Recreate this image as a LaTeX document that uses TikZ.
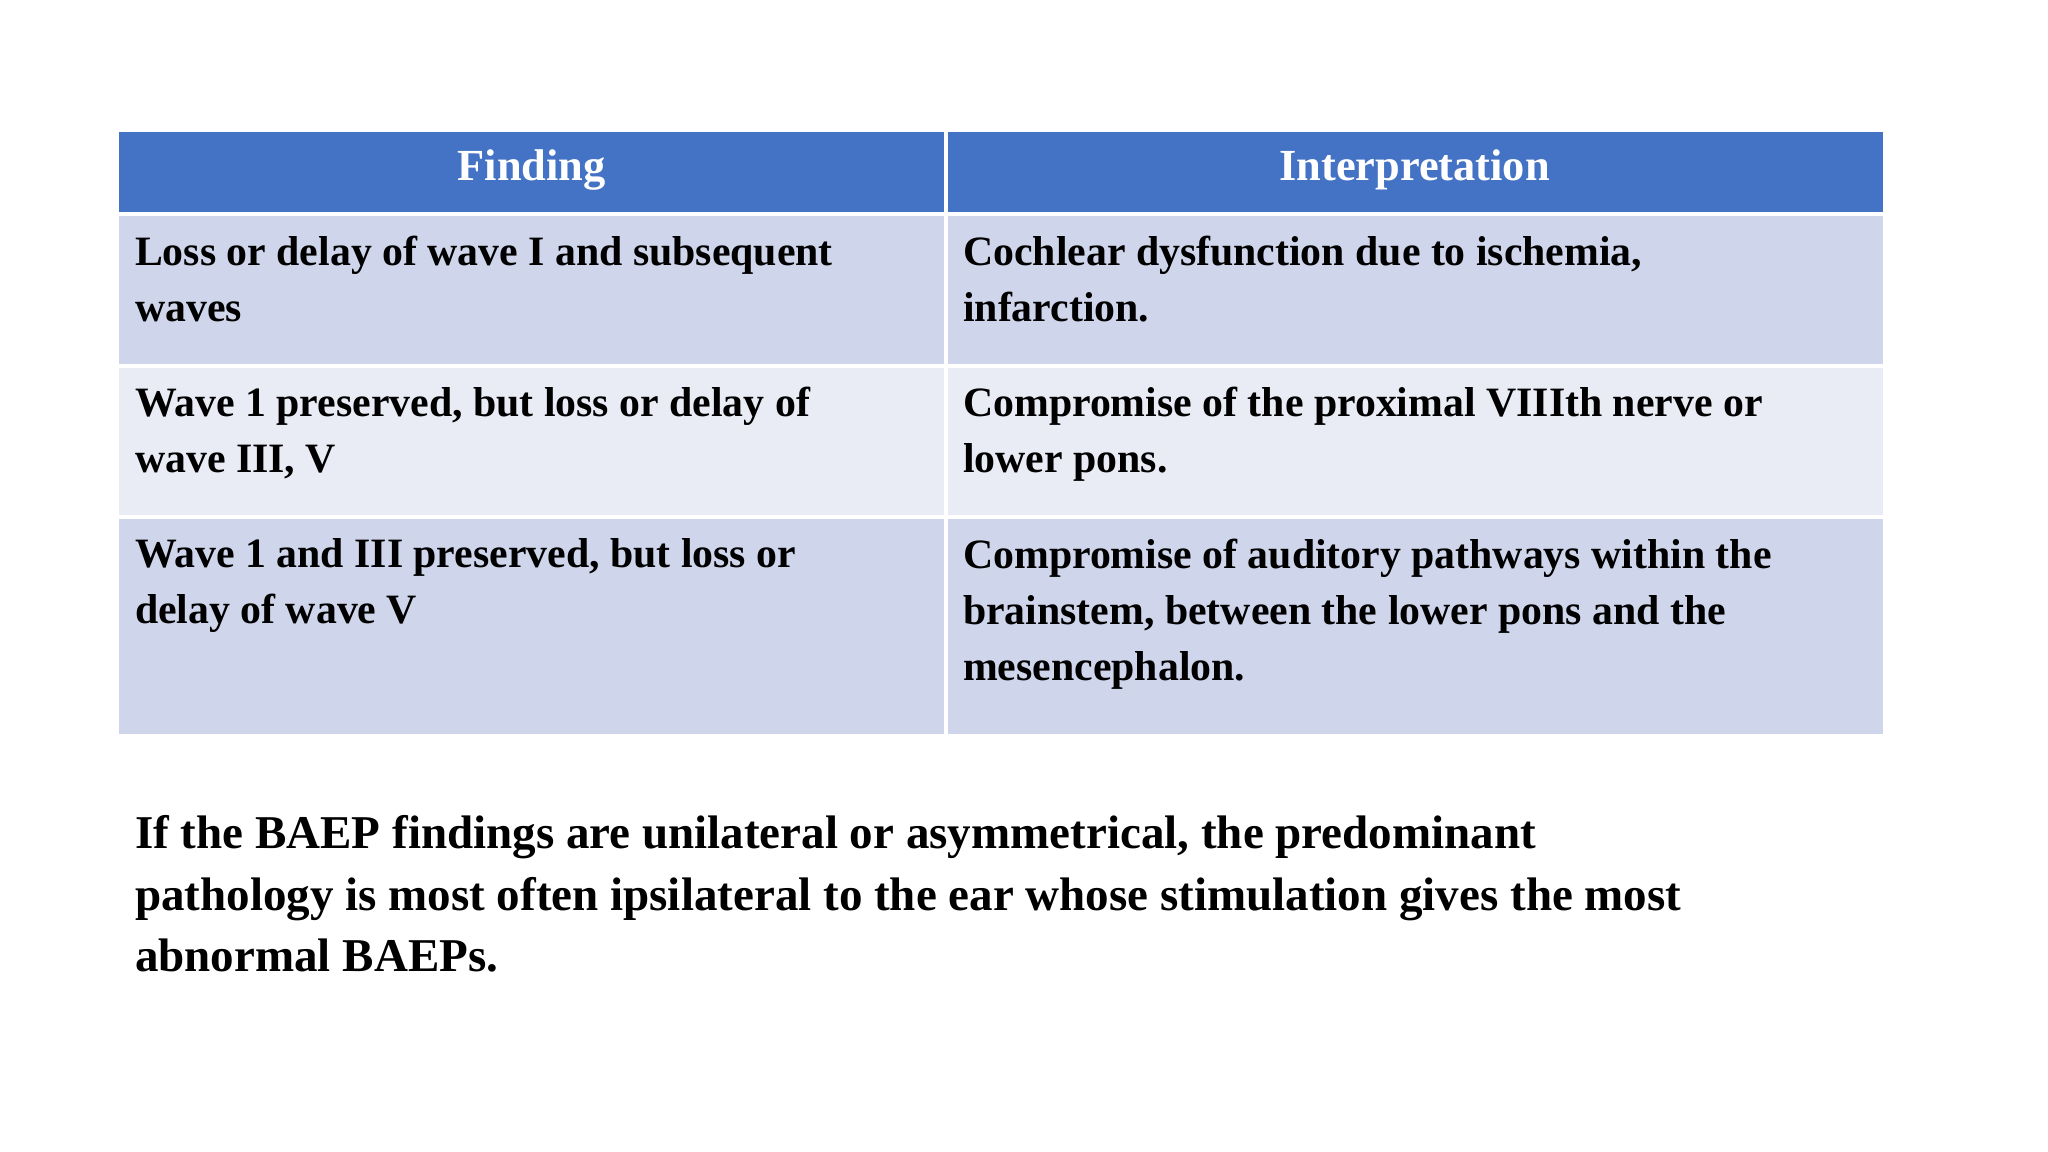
\documentclass[tikz,border=0pt]{standalone}
\usepackage{fontspec}
\setmainfont{Liberation Serif}
\definecolor{hdr}{HTML}{4472C4}
\definecolor{rowA}{HTML}{CFD5EA}
\definecolor{rowB}{HTML}{E9EBF5}
\begin{document}
\begin{tikzpicture}[x=0.5pt,y=-0.5pt,
  cell/.style={anchor=north west,inner sep=0pt,align=left,font=\fontsize{16}{21.5}\selectfont\bfseries,text=black},
  htext/.style={font=\fontsize{17}{20}\selectfont\bfseries,text=white}]
\useasboundingbox (0,0) rectangle (1568,882);
\fill[white] (0,0) rectangle (1568,882);
\fill[hdr] (91,101) rectangle (1442,163);
\fill[rowA] (91,165) rectangle (1442,280);
\fill[rowB] (91,280) rectangle (1442,396);
\fill[rowA] (91,396) rectangle (1442,562);
\draw[white,line width=1.5] (91,164) -- (1442,164) (91,280) -- (1442,280) (91,396) -- (1442,396) (724,101) -- (724,562);
\node[htext] (h1) at (407,130) {Finding};
\node[htext] (h2) at (1083,130) {Interpretation};
\node[cell] (a1) at (103,180) {Loss or delay of wave I and subsequent\\waves};
\node[cell] (b1) at (737,180) {Cochlear dysfunction due to ischemia,\\infarction.};
\node[cell] (a2) at (103,296) {Wave 1 preserved, but loss or delay of\\wave III, V};
\node[cell] (b2) at (737,296) {Compromise of the proximal VIIIth nerve or\\lower pons.};
\node[cell] (a3) at (103,412) {Wave 1 and III preserved, but loss or\\delay of wave V};
\node[cell] (b3) at (737,412) {Compromise of auditory pathways within the\\brainstem, between the lower pons and the\\mesencephalon.};
\node[anchor=north west,inner sep=0pt,align=left,font=\fontsize{18}{23.5}\selectfont\bfseries] (p) at (103,624) {If the BAEP findings are unilateral or asymmetrical, the predominant\\pathology is most often ipsilateral to the ear whose stimulation gives the most\\abnormal BAEPs.};
\end{tikzpicture}
\end{document}
